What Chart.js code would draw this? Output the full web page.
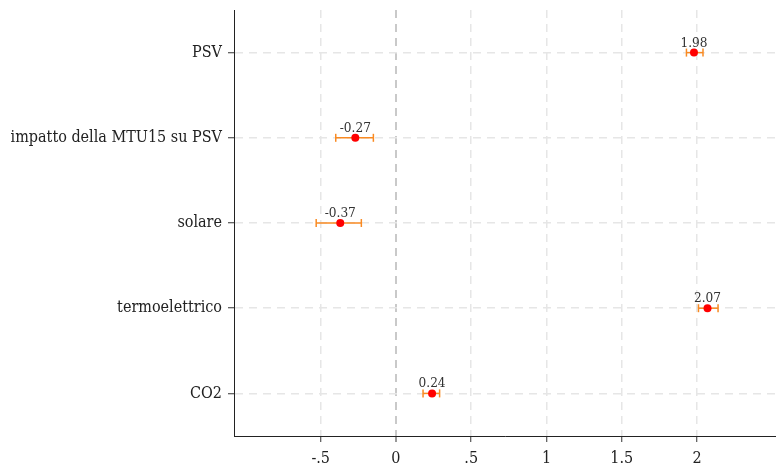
<!DOCTYPE html>
<html>
<head>
<meta charset="utf-8">
<script src="https://cdn.jsdelivr.net/npm/chart.js@4"></script>
<style>
  html, body { margin: 0; padding: 0; background: #fff; }
  #wrap { width: 776px; height: 466px; }
</style>
</head>
<body>
<div id="wrap"><canvas id="coefChart" width="776" height="466"></canvas></div>
<script>
// Données du graphique
const categories = ['PSV', 'impatto della MTU15 su PSV', 'solare', 'termoelettrico', 'CO2'];
const coefs = [1.98, -0.27, -0.37, 2.07, 0.24];
const ciLow = [1.93, -0.40, -0.53, 2.01, 0.18];
const ciHigh = [2.04, -0.15, -0.23, 2.14, 0.29];
const xTicks = [-0.5, 0, 0.5, 1, 1.5, 2];
const xTickLabels = ['-.5', '0', '.5', '1', '1.5', '2'];

const SERIF = '"DejaVu Serif Condensed", "Liberation Serif", serif';
const ORANGE = '#f98a22';

// Points (dessinés en premier => au-dessus)
const pointDataset = {
    data: coefs.map((v, i) => ({ x: v, y: i })),
    backgroundColor: '#ff0000',
    borderWidth: 0,
    pointRadius: 4,
    showLine: false
};

// Barres d'erreur, une par ligne
const errorDatasets = categories.map((c, i) => ({
    data: [{ x: ciLow[i], y: i }, { x: ciHigh[i], y: i }],
    showLine: true,
    borderColor: ORANGE,
    borderWidth: 1.5,
    pointStyle: 'line',
    rotation: 90,
    pointRadius: 4,
    pointBorderColor: ORANGE,
    pointBorderWidth: 1.5
}));

// Étiquettes des valeurs au-dessus des points
const valueLabels = {
    id: 'valueLabels',
    afterDatasetsDraw(chart) {
        const ctx = chart.ctx;
        const xs = chart.scales.x, ys = chart.scales.y;
        ctx.save();
        ctx.font = '13.5px ' + SERIF;
        ctx.fillStyle = '#333';
        ctx.textAlign = 'center';
        ctx.textBaseline = 'alphabetic';
        coefs.forEach((v, i) => {
            ctx.fillText(v.toFixed(2), xs.getPixelForValue(v), ys.getPixelForValue(i) - 6);
        });
        ctx.restore();
    }
};

new Chart(document.getElementById('coefChart'), {
    type: 'scatter',
    data: { datasets: [pointDataset, ...errorDatasets] },
    plugins: [valueLabels],
    options: {
        responsive: false,
        animation: false,
        layout: { autoPadding: false, padding: { top: 10, right: 0, left: 0, bottom: 0 } },
        plugins: {
            legend: { display: false },
            tooltip: { enabled: false }
        },
        scales: {
            x: {
                type: 'linear',
                min: -1.076,
                max: 2.525,
                afterBuildTicks: (scale) => { scale.ticks = xTicks.map(v => ({ value: v })); },
                afterFit: (scale) => {
                    scale.height = 30;
                    scale.paddingLeft = 0;
                    scale.paddingRight = 0;
                },
                ticks: {
                    callback: (value) => xTickLabels[xTicks.indexOf(value)],
                    color: '#222',
                    font: { family: SERIF, size: 16 },
                    padding: 7,
                    maxRotation: 0
                },
                grid: {
                    color: (ctx) => ctx.tick && ctx.tick.value === 0 ? '#c9c9c9' : '#e6e6e6',
                    lineWidth: (ctx) => ctx.tick && ctx.tick.value === 0 ? 2 : 1.5,
                    tickColor: '#333',
                    tickLength: 6,
                    tickWidth: 1
                },
                border: { color: '#222', width: 1, dash: [8, 6] }
            },
            y: {
                type: 'linear',
                min: -0.5,
                max: 4.5,
                reverse: true,
                afterBuildTicks: (scale) => { scale.ticks = categories.map((c, i) => ({ value: i })); },
                afterFit: (scale) => {
                    scale.width = 234;
                    scale.paddingTop = 0;
                    scale.paddingBottom = 0;
                },
                ticks: {
                    callback: (value) => categories[value],
                    color: '#222',
                    font: { family: SERIF, size: 16 },
                    padding: 6
                },
                grid: {
                    color: '#e6e6e6',
                    lineWidth: 1.5,
                    tickColor: '#333',
                    tickLength: 6,
                    tickWidth: 1
                },
                border: { color: '#222', width: 1, dash: [8, 6] }
            }
        }
    }
});
</script>
</body>
</html>
